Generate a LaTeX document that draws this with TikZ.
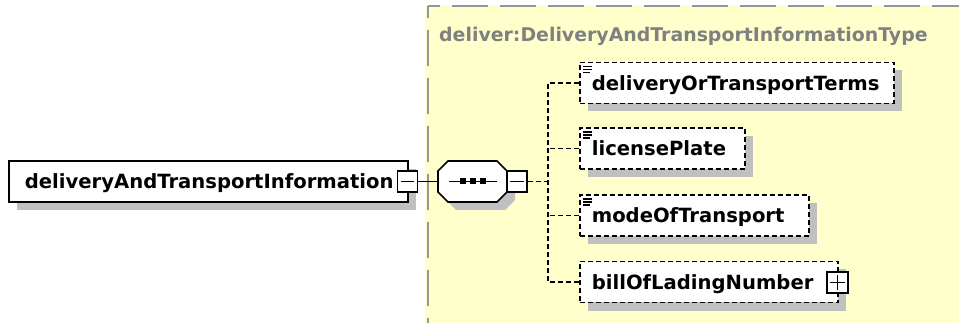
\documentclass[tikz,border=0pt]{standalone}
\usepackage{fontspec}
\setmainfont{DejaVu Sans}
\usetikzlibrary{shadows}
\definecolor{ybg}{RGB}{255,255,204}
\definecolor{shd}{RGB}{192,192,192}
\definecolor{bordergray}{RGB}{150,150,150}
\definecolor{titlegray}{RGB}{128,128,128}
\begin{document}
\begin{tikzpicture}[x=1pt,y=-1pt,line join=miter,
  every node/.style={font=\fontsize{19.6}{23}\selectfont\bfseries},
  elshadow/.style={drop shadow={shadow xshift=8pt,shadow yshift=-8pt,fill=shd,opacity=1}},
  mainbox/.style={draw,fill=white,line width=1.7pt,minimum height=41pt,inner ysep=0pt,
    inner xsep=16pt,align=left,text height=14.3pt,text depth=0pt,anchor=west,elshadow},
  childbox/.style={mainbox,dash pattern=on 5pt off 3pt,inner xsep=12pt},
  pmbox/.style={draw,fill=white,line width=1.7pt,minimum width=20pt,minimum height=21pt,inner sep=0pt},
  pmline/.style={line width=1.7pt},
  solidline/.style={line width=1.7pt},
  dashline/.style={line width=1.7pt,dash pattern=on 5pt off 3pt},
  iconline/.style={line width=1.3pt}
]
\useasboundingbox (0,0) rectangle (959,323);
% type area
\fill[ybg] (425,5) rectangle (959,323);
\draw[bordergray,line width=2pt,dash pattern=on 36pt off 12pt,dash phase=24pt] (428,6) -- (959,6);
\draw[bordergray,line width=2pt,dash pattern=on 36pt off 12pt,dash phase=24pt] (428,6) -- (428,323);
\node[anchor=west,inner sep=0pt,text=titlegray,text height=14pt,text depth=0pt,
  font=\fontsize{18.9}{23}\selectfont\bfseries] (title) at (439,34.5) {deliver:DeliveryAndTransportInformationType};

% main element
\node[mainbox,text width=367pt] (main) at (8,181.5) {deliveryAndTransportInformation};
\node[pmbox] (mm) at (407.5,181.5) {};
\draw[pmline] ([xshift=4pt]mm.west) -- ([xshift=-4pt]mm.east);

% sequence compositor
\filldraw[fill=white,line width=1.7pt,elshadow]
  (438,171) -- (448,161) -- (497,161) -- (507,171) -- (507,192) -- (497,202) -- (448,202) -- (438,192) -- cycle;
\coordinate (seqW) at (438,181.5);
\coordinate (seqE) at (507,181.5);
\draw[solidline] (449,181.5) -- (497,181.5);
\fill (459.5,178.5) rectangle (465.5,184.5);
\fill (469.5,178.5) rectangle (475.5,184.5);
\fill (479.5,178.5) rectangle (485.5,184.5);
\node[pmbox] (sm) at (517,181.5) {};
\draw[pmline] ([xshift=4pt]sm.west) -- ([xshift=-4pt]sm.east);
\draw[solidline] (mm.east) -- (seqW);

% children
\node[childbox,text width=290pt] (c1) at (579,83) {deliveryOrTransportTerms};
\node[childbox,text width=141pt] (c2) at (579,148.5) {licensePlate};
\node[childbox,text width=205pt] (c3) at (579,215.5) {modeOfTransport};
\node[childbox,text width=234pt] (c4) at (579,282) {billOfLadingNumber};
\node[pmbox,minimum width=21pt] (pb) at (837.5,282.5) {};
\draw[pmline] ([xshift=4pt]pb.west) -- ([xshift=-4pt]pb.east);
\draw[pmline] ([yshift=-4pt]pb.north) -- ([yshift=4pt]pb.south);

% icons
\foreach \c in {c1,c2,c3}{
  \draw[iconline] ([shift={(4,5)}]\c.north west) -- ++(9,0);
  \draw[iconline] ([shift={(4,8)}]\c.north west) -- ++(9,0);
  \draw[iconline] ([shift={(4,11)}]\c.north west) -- ++(7,0);
}

% connectors
\coordinate (trunk) at (548,181.5);
\draw[dashline] (sm.east) -- (trunk);
\draw[dashline] (c1.west) -| (trunk);
\draw[dashline] (c4.west) -| (trunk);
\draw[dashline] (c2.west) -- (c2.west -| trunk);
\draw[dashline] (c3.west) -- (c3.west -| trunk);
\end{tikzpicture}
\end{document}
